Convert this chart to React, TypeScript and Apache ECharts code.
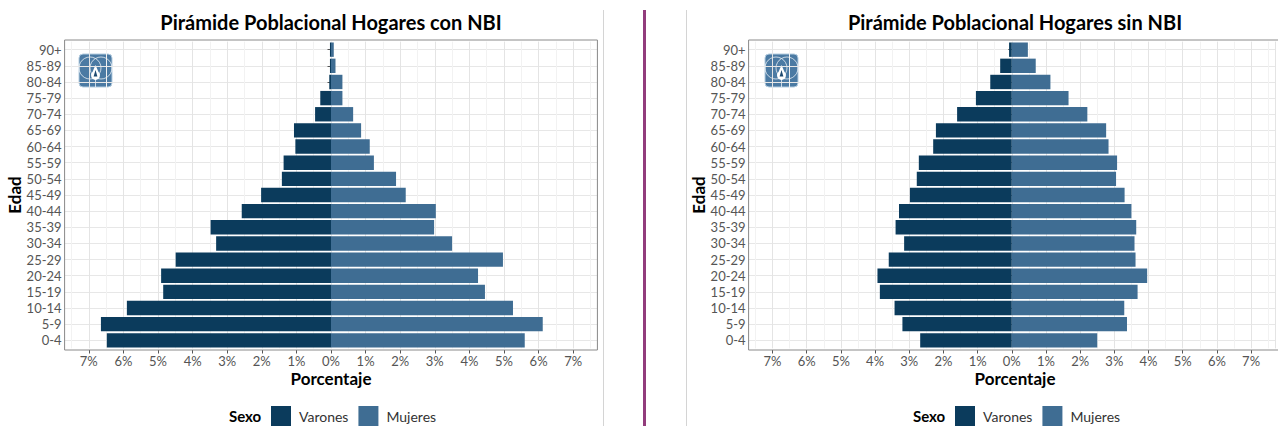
import React, { useEffect, useRef } from "react";
import * as echarts from "echarts";

const ageGroups = ["0-4", "5-9", "10-14", "15-19", "20-24", "25-29", "30-34", "35-39", "40-44", "45-49", "50-54", "55-59", "60-64", "65-69", "70-74", "75-79", "80-84", "85-89", "90+"];

const conNbiVarones = [6.48, 6.65, 5.9, 4.85, 4.91, 4.49, 3.32, 3.48, 2.58, 2.02, 1.42, 1.37, 1.03, 1.07, 0.46, 0.31, 0.05, 0.03, 0.03];
const conNbiMujeres = [5.6, 6.12, 5.26, 4.45, 4.25, 4.97, 3.5, 2.98, 3.03, 2.16, 1.88, 1.24, 1.12, 0.87, 0.64, 0.33, 0.33, 0.13, 0.08];
const sinNbiVarones = [2.68, 3.2, 3.43, 3.86, 3.93, 3.6, 3.15, 3.4, 3.3, 2.98, 2.78, 2.72, 2.3, 2.22, 1.6, 1.05, 0.63, 0.34, 0.08];
const sinNbiMujeres = [2.5, 3.37, 3.29, 3.68, 3.96, 3.62, 3.59, 3.64, 3.5, 3.3, 3.05, 3.08, 2.83, 2.76, 2.21, 1.66, 1.13, 0.7, 0.47];

const xTicks = [-7, -6, -5, -4, -3, -2, -1, 0, 1, 2, 3, 4, 5, 6, 7];
const xLimit = 7.7;

const titles = ["Pirámide Poblacional Hogares con NBI", "Pirámide Poblacional Hogares sin NBI"];
const seriesNames = ["Varones", "Mujeres"];

const DARK = "#0b3b5c";
const LIGHT = "#3f6d93";
const FONT = "Lato, 'Open Sans', sans-serif";

export default function App() {
  const ref = useRef<HTMLDivElement>(null);

  useEffect(() => {
    if (!ref.current) return;
    const chart = echarts.init(ref.current, undefined, { renderer: "svg" });

    const panels = [
      { dx: 0, men: conNbiVarones, women: conNbiMujeres, title: titles[0] },
      { dx: 684, men: sinNbiVarones, women: sinNbiMujeres, title: titles[1] },
    ];
    const frameLeft = 64.6;
    const frameWidth = 532.8;
    const frameTop = 40;
    const frameHeight = 310;

    const labelFmt = (v: number) => {
      const r = Math.round(v);
      if (Math.abs(v - r) < 1e-6 && Math.abs(r) <= 7) return `${Math.abs(r)}%`;
      return "";
    };

    const grid: any[] = [];
    const xAxis: any[] = [];
    const yAxis: any[] = [];
    const series: any[] = [];
    const graphic: any[] = [];
    const legend: any[] = [];

    panels.forEach((p, i) => {
      grid.push({ left: frameLeft + p.dx, top: frameTop + 1.6, width: frameWidth, height: frameHeight - 3.2 });
      xAxis.push({
        type: "value",
        gridIndex: i,
        min: -xLimit,
        max: xLimit,
        minInterval: 0.5,
        maxInterval: 0.5,
        position: "bottom",
        offset: 1.6,
        axisLine: { show: false },
        axisTick: { show: false },
        axisLabel: { formatter: labelFmt, color: "#555", fontFamily: FONT, fontSize: 13, margin: 4 },
        splitLine: { show: true, lineStyle: { color: ["#e4e4e4", "#f2f2f2"], width: 1 } },
      });
      xAxis.push({
        type: "value",
        gridIndex: i,
        min: -xLimit,
        max: xLimit,
        minInterval: 1,
        maxInterval: 1,
        position: "bottom",
        offset: 1.6,
        axisLine: { show: false },
        axisLabel: { show: false },
        splitLine: { show: false },
        axisTick: { show: true, length: 3.5, customValues: xTicks, lineStyle: { color: "#555", width: 1 } },
      });
      yAxis.push({
        type: "category",
        gridIndex: i,
        data: ageGroups,
        axisLine: { show: false },
        axisTick: { show: true, alignWithLabel: true, interval: 0, length: 3.5, lineStyle: { color: "#555" } },
        axisLabel: { interval: 0, color: "#555", fontFamily: FONT, fontSize: 13, margin: 3 },
        splitLine: { show: true, alignWithLabel: true, interval: 0, lineStyle: { color: "#e7e7e7", width: 1 } },
      });
      const common = {
        type: "bar",
        xAxisIndex: i * 2,
        yAxisIndex: i,
        barWidth: "89%",
        barGap: "-100%",
      };
      series.push({
        ...common,
        name: seriesNames[0],
        data: p.men.map((v) => -v),
        itemStyle: { color: DARK },
      });
      series.push({
        ...common,
        name: seriesNames[1],
        data: p.women,
        itemStyle: { color: LIGHT },
      });

      legend.push({
        data: seriesNames,
        left: 271 + p.dx,
        top: 406,
        padding: 0,
        itemWidth: 20,
        itemHeight: 20,
        itemGap: 10,
        icon: "rect",
        selectedMode: false,
        textStyle: { fontFamily: FONT, fontSize: 14, color: "#333", padding: [0, 0, 0, 3] },
      });

      const cx = 331 + p.dx;
      graphic.push(
        {
          type: "rect",
          z: 50,
          shape: { x: frameLeft + p.dx, y: frameTop, width: frameWidth, height: frameHeight },
          style: { fill: "none", stroke: "#8a8a8a", lineWidth: 1 },
        },
        {
          type: "text",
          x: cx,
          y: 22,
          style: { text: p.title, fill: "#000", font: `bold 20px ${FONT}`, textAlign: "center", textVerticalAlign: "middle" },
        },
        {
          type: "text",
          x: cx,
          y: 378,
          style: { text: "Porcentaje", fill: "#000", font: `bold 17px ${FONT}`, textAlign: "center", textVerticalAlign: "middle" },
        },
        {
          type: "text",
          x: 14 + p.dx,
          y: 195,
          rotation: Math.PI / 2,
          style: { text: "Edad", fill: "#000", font: `bold 17px ${FONT}`, textAlign: "center", textVerticalAlign: "middle" },
        },
        {
          type: "text",
          x: 229 + p.dx,
          y: 416,
          style: { text: "Sexo", fill: "#000", font: `bold 15px ${FONT}`, textAlign: "left", textVerticalAlign: "middle" },
        },
        {
          type: "group",
          x: (i === 0 ? 79 : 765),
          y: 54,
          z: 40,
          children: [
            { type: "rect", shape: { x: 0, y: 0, width: 33, height: 33, r: 4 }, style: { fill: "#4b7aa3", stroke: "#b5cde0", lineWidth: 1 } },
            { type: "circle", shape: { cx: 11, cy: 14, r: 11 }, style: { fill: "none", stroke: "rgba(255,255,255,0.7)", lineWidth: 1 } },
            { type: "circle", shape: { cx: 22, cy: 14, r: 11 }, style: { fill: "none", stroke: "rgba(255,255,255,0.7)", lineWidth: 1 } },
            { type: "line", shape: { x1: 16.5, y1: 25, x2: 16.5, y2: 33 }, style: { stroke: "rgba(255,255,255,0.7)", lineWidth: 1 } },
            { type: "polygon", shape: { points: [[16.5, 11], [12.2, 21], [20.8, 21]] }, style: { fill: "#ffffff" } },
            { type: "circle", shape: { cx: 16.5, cy: 21.5, r: 4.4 }, style: { fill: "#ffffff" } },
            { type: "polygon", shape: { points: [[16.5, 16], [14.6, 22.5], [18.4, 22.5]] }, style: { fill: "#1f4a70" } },
          ],
        }
      );
    });

    graphic.push(
      { type: "line", shape: { x1: 603.5, y1: 10, x2: 603.5, y2: 426 }, style: { stroke: "#d4d4d4", lineWidth: 1 } },
      { type: "line", shape: { x1: 644.5, y1: 10, x2: 644.5, y2: 426 }, style: { stroke: "#923c7c", lineWidth: 3 } },
      { type: "line", shape: { x1: 686.5, y1: 10, x2: 686.5, y2: 426 }, style: { stroke: "#d4d4d4", lineWidth: 1 } }
    );

    chart.setOption({
      animation: false,
      backgroundColor: "#ffffff",
      textStyle: { fontFamily: FONT },
      grid,
      xAxis,
      yAxis,
      series,
      legend,
      graphic,
    });

    return () => chart.dispose();
  }, []);

  return <div ref={ref} style={{ position: "absolute", left: 0, top: 0, width: 1278, height: 426 }} />;
}
